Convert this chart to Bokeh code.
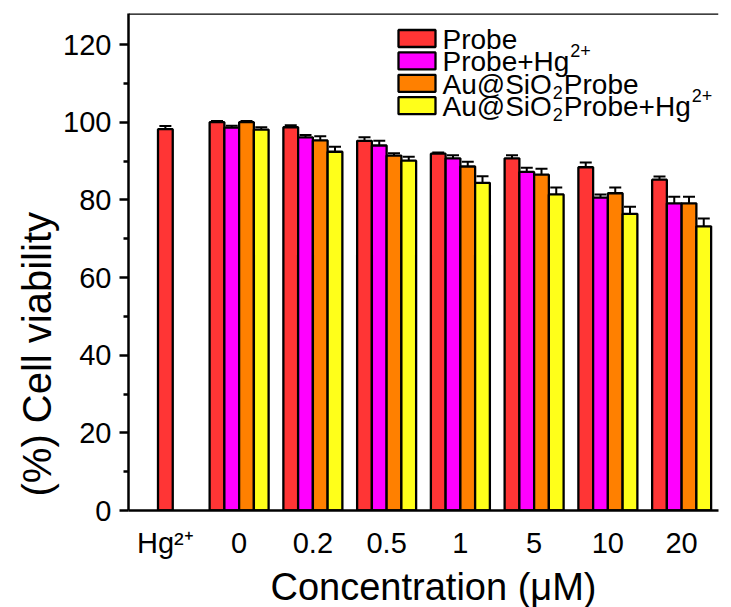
from bokeh.plotting import figure
from bokeh.models import (ColumnDataSource, FactorRange, Range1d, Whisker, TeeHead,
                          Span, FixedTicker, Label, BoxAnnotation, Title)
from bokeh.transform import dodge
from bokeh.embed import file_html
from bokeh.resources import INLINE

# ---------------- data ----------------
control_label = ["Hg²⁺"]
control_value = [98.2]
control_err = [0.8]

concentrations = ["0", "0.2", "0.5", "1", "5", "10", "20"]

probe = [100.0, 98.7, 95.2, 91.9, 90.7, 88.4, 85.2]
probe_err = [0.3, 0.5, 0.9, 0.3, 0.8, 1.2, 0.8]

probe_hg = [98.6, 96.1, 94.0, 90.7, 87.2, 80.6, 79.1]
probe_hg_err = [0.5, 0.6, 1.2, 0.8, 1.1, 0.8, 1.7]

au_probe = [100.0, 95.3, 91.4, 88.6, 86.5, 81.7, 79.1]
au_probe_err = [0.3, 1.1, 0.6, 1.2, 1.5, 1.5, 1.7]

au_probe_hg = [98.1, 92.4, 90.1, 84.4, 81.4, 76.4, 73.2]
au_probe_hg_err = [0.6, 1.3, 1.0, 1.7, 1.8, 1.8, 2.0]

# legend labels as (text, script) pieces: 0 normal, 1 superscript, -1 subscript
series_labels = [
    [("Probe", 0)],
    [("Probe+Hg", 0), ("2+", 1)],
    [("Au@SiO", 0), ("2", -1), ("Probe", 0)],
    [("Au@SiO", 0), ("2", -1), ("Probe+Hg", 0), ("2+", 1)],
]
series_values = [probe, probe_hg, au_probe, au_probe_hg]
series_errors = [probe_err, probe_hg_err, au_probe_err, au_probe_hg_err]
series_colors = ["#FF3535", "#FF00FF", "#FF8000", "#FFFF1A"]

y_ticks = [0, 20, 40, 60, 80, 100, 120]
y_minor_ticks = [10, 30, 50, 70, 90, 110]

categories = control_label + concentrations

FONT = "Liberation Sans"
TICK_PX = 29
MAIN_PX = 28
SCRIPT_PX = 18

# Arial / Liberation Sans advance widths (per 1000 em)
ADV = {"P": 667, "r": 333, "o": 556, "b": 556, "e": 556, "+": 584, "H": 722, "g": 556,
       "A": 667, "u": 556, "@": 1015, "S": 667, "i": 222, "O": 778, "2": 556}


def text_w(s, px):
    return sum(ADV.get(c, 556) for c in s) * px / 1000.0


FRAME_L, FRAME_T, FRAME_W, FRAME_H = 128, 13, 590, 497
Y_END = 128

p = figure(x_range=FactorRange(*categories, range_padding=0),
           y_range=Range1d(0, Y_END),
           frame_width=FRAME_W, frame_height=FRAME_H,
           min_border_left=FRAME_L, min_border_right=13,
           min_border_top=FRAME_T, min_border_bottom=97,
           output_backend="svg", toolbar_location=None)
p.background_fill_color = "white"
p.border_fill_color = "white"
p.outline_line_color = None
p.xgrid.grid_line_color = None
p.ygrid.grid_line_color = None

bar_w = 0.2
offsets = [-0.3, -0.1, 0.1, 0.3]


def tee():
    return TeeHead(size=12, line_width=2, line_color="black")


# control (Hg2+ alone) bar
csrc = ColumnDataSource(dict(x=control_label, top=control_value,
                             upper=[v + e for v, e in zip(control_value, control_err)],
                             lower=[v - e for v, e in zip(control_value, control_err)]))
p.vbar(x="x", top="top", width=bar_w, source=csrc, fill_color=series_colors[0],
       line_color="black", line_width=2.3)
p.add_layout(Whisker(source=csrc, base="x", upper="upper", lower="lower",
                     line_color="black", line_width=2, upper_head=tee(), lower_head=tee()))

for vals, errs, col, off in zip(series_values, series_errors, series_colors, offsets):
    src = ColumnDataSource(dict(x=concentrations, top=vals,
                                upper=[v + e for v, e in zip(vals, errs)],
                                lower=[v - e for v, e in zip(vals, errs)]))
    p.vbar(x=dodge("x", off, range=p.x_range), top="top", width=bar_w, source=src,
           fill_color=col, line_color="black", line_width=2.3)
    p.add_layout(Whisker(source=src, base=dodge("x", off, range=p.x_range),
                         upper="upper", lower="lower", line_color="black", line_width=2,
                         upper_head=tee(), lower_head=tee()))

# top frame line
p.add_layout(Span(location=Y_END, dimension="width", line_color="black", line_width=2.5))

# axes
for ax in (p.xaxis[0], p.yaxis[0]):
    ax.axis_line_width = 2.5
    ax.axis_line_color = "black"
    ax.major_label_text_font = FONT
    ax.major_label_text_font_size = f"{TICK_PX}px"
    ax.major_label_text_color = "black"

p.xaxis.major_tick_line_color = None
p.xaxis.minor_tick_line_color = None
p.xaxis.major_label_standoff = 10

p.yaxis.ticker = FixedTicker(ticks=y_ticks, minor_ticks=y_minor_ticks)
p.yaxis.major_tick_line_width = 2.5
p.yaxis.minor_tick_line_width = 2.5
p.yaxis.major_tick_out = 9
p.yaxis.major_tick_in = 0
p.yaxis.minor_tick_out = 5
p.yaxis.minor_tick_in = 0
p.yaxis.major_label_standoff = 8

# axis titles (as side-panel titles so they can be positioned like the original)
p.add_layout(Title(text="Concentration (μM)", align="left", offset=142,
                   text_font=FONT, text_font_size="38px", text_font_style="normal",
                   text_color="black", standoff=4), "below")
p.add_layout(Title(text="(%) Cell viability", align="left", offset=14,
                   text_font=FONT, text_font_size="40px", text_font_style="normal",
                   text_color="black", standoff=4), "left")


def put_text(x_canvas, base_canvas, s, px):
    p.add_layout(Label(x=x_canvas - FRAME_L, y=(FRAME_T + FRAME_H) - base_canvas,
                       x_units="screen", y_units="screen", text=s,
                       text_font=FONT, text_font_size=f"{px}px", text_color="black",
                       text_align="left", text_baseline="alphabetic"))


def put_rich(x_canvas, base_canvas, pieces):
    x = x_canvas
    for s, kind in pieces:
        if kind == 0:
            put_text(x, base_canvas, s, MAIN_PX)
            x += text_w(s, MAIN_PX)
        elif kind == 1:
            put_text(x + 1, base_canvas - 11, s, SCRIPT_PX)
            x += text_w(s, SCRIPT_PX) + 1
        else:
            put_text(x + 1, base_canvas + 8, s, SCRIPT_PX)
            x += text_w(s, SCRIPT_PX) + 2


# legend (drawn inside the frame, top right)
box_l, box_r, box_h, row0_center, pitch, text_x = 398, 435, 17, 38, 22.4, 442
for i, (pieces, col) in enumerate(zip(series_labels, series_colors)):
    c = row0_center + i * pitch
    top = c - box_h / 2
    bottom = c + box_h / 2
    p.add_layout(BoxAnnotation(left=box_l - FRAME_L, right=box_r - FRAME_L,
                               top=(FRAME_T + FRAME_H) - top,
                               bottom=(FRAME_T + FRAME_H) - bottom,
                               left_units="screen", right_units="screen",
                               top_units="screen", bottom_units="screen",
                               fill_color=col, fill_alpha=1.0,
                               line_color="black", line_width=2.3, line_alpha=1.0))
    put_rich(text_x, c + 1, pieces)

open("out.html", "w").write(file_html(p, INLINE))
